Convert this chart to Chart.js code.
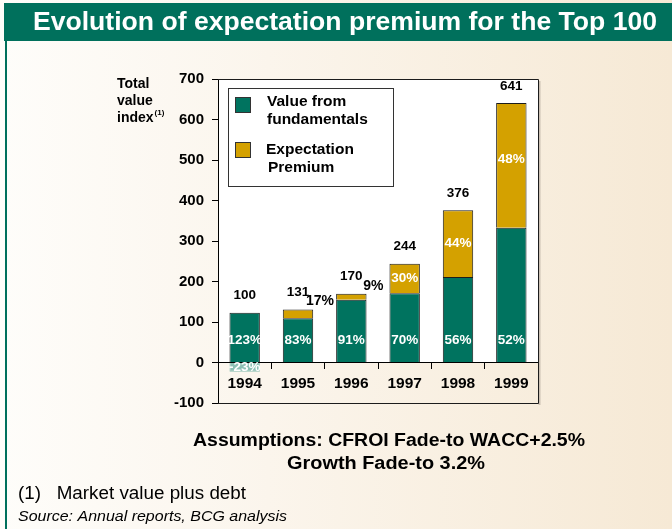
<!DOCTYPE html>
<html>
<head>
<meta charset="utf-8">
<title>Evolution of expectation premium for the Top 100</title>
<script src="https://cdn.jsdelivr.net/npm/chart.js@4.4.1/dist/chart.umd.min.js"></script>
<style>
  html, body { margin: 0; padding: 0; }
  body {
    width: 672px; height: 529px; overflow: hidden;
    background: linear-gradient(90deg, #fefdfa 0%, #fbf5ec 40%, #f6e9d5 100%);
  }
  canvas { display: block; }
</style>
</head>
<body>
<canvas id="chart" width="672" height="529"></canvas>
<script>
// ---- data ----
const years = ['1994', '1995', '1996', '1997', '1998', '1999'];
const totalValue = [100, 131, 170, 244, 376, 641];
const fundamentals = [123, 109, 155, 171, 211, 333];
const premium = [-23, 22, 15, 73, 165, 308];
const fundamentalsPct = ['123%', '83%', '91%', '70%', '56%', '52%'];
const premiumPct = ['-23%', '17%', '9%', '30%', '44%', '48%'];
const yTicks = [-100, 0, 100, 200, 300, 400, 500, 600, 700];
const legendLines = [['Value from', 'fundamentals'], ['Expectation', 'Premium']];

// ---- styles ----
const FONT = "'Liberation Sans', Arial, Helvetica, sans-serif";
const GREEN = '#00705c';
const TEAL = '#00735f';
const GOLD = '#d4a100';
const PALE_TEAL = '#8cc0b4';
const EDGE = '#1c1c1c';

// draws a line of text squeezed or stretched to a given width
function fitText(ctx, text, x, y, width, align) {
  const w = ctx.measureText(text).width;
  const k = width / w;
  ctx.save();
  const left = align === 'center' ? x - width / 2 : x;
  ctx.translate(left, y);
  ctx.scale(k, 1);
  ctx.textAlign = 'left';
  ctx.fillText(text, 0, 0);
  ctx.restore();
}

const decor = {
  id: 'decor',
  beforeDraw(chart) {
    const { ctx, chartArea: a, scales: { y } } = chart;
    ctx.save();
    // white plot panel above the zero line
    const y0 = y.getPixelForValue(0);
    ctx.fillStyle = '#ffffff';
    ctx.fillRect(a.left, a.top, a.right - a.left, y0 - a.top);
    // soft shadow on the right of the frame
    ctx.fillStyle = 'rgba(120,110,100,0.35)';
    ctx.fillRect(a.right + 0.5, a.top + 2, 2, a.bottom - a.top);
    ctx.restore();
  },
  afterDraw(chart) {
    const { ctx, chartArea: a, scales: { y } } = chart;
    ctx.save();

    // header bar and left rule
    ctx.fillStyle = GREEN;
    ctx.fillRect(4, 3, 668, 38);
    ctx.fillRect(5, 41, 2, 488);
    ctx.fillStyle = '#ffffff';
    ctx.font = `bold 26.5px ${FONT}`;
    ctx.textBaseline = 'middle';
    fitText(ctx, 'Evolution of expectation premium for the Top 100', 33, 23, 624, 'left');

    // plot frame
    ctx.strokeStyle = EDGE;
    ctx.lineWidth = 1;
    ctx.beginPath();
    ctx.moveTo(a.left, a.top + 0.5);
    ctx.lineTo(a.right + 0.5, a.top + 0.5);
    ctx.lineTo(a.right + 0.5, a.bottom + 0.5);
    ctx.lineTo(a.left, a.bottom + 0.5);
    ctx.stroke();

    // y axis title
    ctx.fillStyle = '#000';
    ctx.textAlign = 'left';
    ctx.textBaseline = 'alphabetic';
    ctx.font = `bold 14px ${FONT}`;
    ctx.fillText('Total', 117, 88);
    ctx.fillText('value', 117, 105);
    ctx.fillText('index', 117, 122);
    const w = ctx.measureText('index').width;
    ctx.font = `bold 8px ${FONT}`;
    ctx.fillText('(1)', 117 + w + 1, 115);

    // legend
    const lx = 228.5, ly = 88.5, lw = 165, lh = 98;
    ctx.fillStyle = '#ffffff';
    ctx.fillRect(lx, ly, lw, lh);
    ctx.strokeStyle = '#333';
    ctx.strokeRect(lx, ly, lw, lh);
    const swatches = [TEAL, GOLD];
    const rows = [[97, 102, 120, 267], [142, 150, 168, 266]];
    chart.data.datasets.forEach((ds, i) => {
      const [sy, t1, t2, tx] = rows[i];
      ctx.fillStyle = swatches[i];
      ctx.fillRect(235.5, sy + 0.5, 15, 15);
      ctx.strokeStyle = '#333';
      ctx.strokeRect(235.5, sy + 0.5, 15, 15);
      ctx.fillStyle = '#000';
      ctx.font = `bold 15.5px ${FONT}`;
      ctx.textBaseline = 'middle';
      ctx.fillText(legendLines[i][0], tx, t1);
      ctx.fillText(legendLines[i][1], tx + (i === 1 ? 2 : 0), t2);
    });

    // value labels
    const m0 = chart.getDatasetMeta(0).data;
    const m1 = chart.getDatasetMeta(1).data;
    ctx.textAlign = 'center';
    ctx.textBaseline = 'middle';
    years.forEach((yr, i) => {
      const cx = m0[i].x;
      const posTop = fundamentals[i] + Math.max(premium[i], 0);
      const topPx = y.getPixelForValue(posTop);
      ctx.fillStyle = '#000';
      ctx.font = `bold 13.5px ${FONT}`;
      ctx.fillText(String(totalValue[i]), cx, topPx - 17);

      // fundamentals share inside the lower segment
      ctx.fillStyle = '#ffffff';
      ctx.font = `bold 13.5px ${FONT}`;
      ctx.fillText(fundamentalsPct[i], cx, y.getPixelForValue(54));

      // premium share
      const seg = m1[i];
      const segH = Math.abs(seg.base - seg.y);
      if (premium[i] < 0) {
        ctx.fillStyle = '#ffffff';
        ctx.fillText(premiumPct[i], cx, (seg.base + seg.y) / 2);
      } else if (segH < 20) {
        ctx.fillStyle = '#000';
        ctx.font = `bold 14px ${FONT}`;
        ctx.fillText(premiumPct[i], cx + 22, topPx - 8);
      } else {
        ctx.fillStyle = '#ffffff';
        ctx.fillText(premiumPct[i], cx, (seg.base + seg.y) / 2 - (segH > 100 ? 6 : 0));
      }
    });

    // notes
    ctx.fillStyle = '#000';
    ctx.textBaseline = 'middle';
    ctx.font = `bold 18px ${FONT}`;
    fitText(ctx, 'Assumptions: CFROI Fade-to WACC+2.5%', 389, 441, 392, 'center');
    fitText(ctx, 'Growth Fade-to 3.2%', 386, 464, 198, 'center');
    ctx.font = `17.5px ${FONT}`;
    fitText(ctx, '(1)   Market value plus debt', 18, 494, 228, 'left');
    ctx.font = `italic 15px ${FONT}`;
    fitText(ctx, 'Source: Annual reports, BCG analysis', 18, 517, 269, 'left');

    ctx.restore();
  }
};

new Chart(document.getElementById('chart'), {
  type: 'bar',
  data: {
    labels: years,
    datasets: [
      {
        label: 'Value from fundamentals',
        data: fundamentals,
        backgroundColor: TEAL,
        borderColor: EDGE,
        borderWidth: 1
      },
      {
        label: 'Expectation Premium',
        data: premium,
        backgroundColor: premium.map(v => (v < 0 ? PALE_TEAL : GOLD)),
        borderColor: premium.map(v => (v < 0 ? PALE_TEAL : EDGE)),
        borderWidth: 1
      }
    ]
  },
  options: {
    responsive: false,
    animation: false,
    events: [],
    datasets: { bar: { categoryPercentage: 1, barPercentage: 0.57 } },
    layout: { padding: { left: 0, right: 134, top: 79, bottom: 126 } },
    plugins: { legend: { display: false }, tooltip: { enabled: false }, title: { display: false } },
    scales: {
      x: {
        stacked: true,
        position: { y: 0 },
        afterFit(scale) { scale.height = 0; },
        grid: { offset: true, drawOnChartArea: false, drawTicks: true, tickLength: 6, color: '#000' },
        border: { display: true, color: '#000', width: 1 },
        ticks: { color: '#000', font: { family: FONT, size: 15.5, weight: 'bold' }, padding: 6 }
      },
      y: {
        stacked: true,
        min: yTicks[0],
        max: yTicks[yTicks.length - 1],
        afterFit(scale) { scale.width = 218; },
        afterBuildTicks(scale) { scale.ticks = yTicks.map(v => ({ value: v })); },
        grid: { drawOnChartArea: false, drawTicks: true, tickLength: 6, color: '#000' },
        border: { display: true, color: '#000', width: 1 },
        ticks: { color: '#000', font: { family: FONT, size: 15, weight: 'bold' }, padding: 8 }
      }
    }
  },
  plugins: [decor]
});
</script>
</body>
</html>
